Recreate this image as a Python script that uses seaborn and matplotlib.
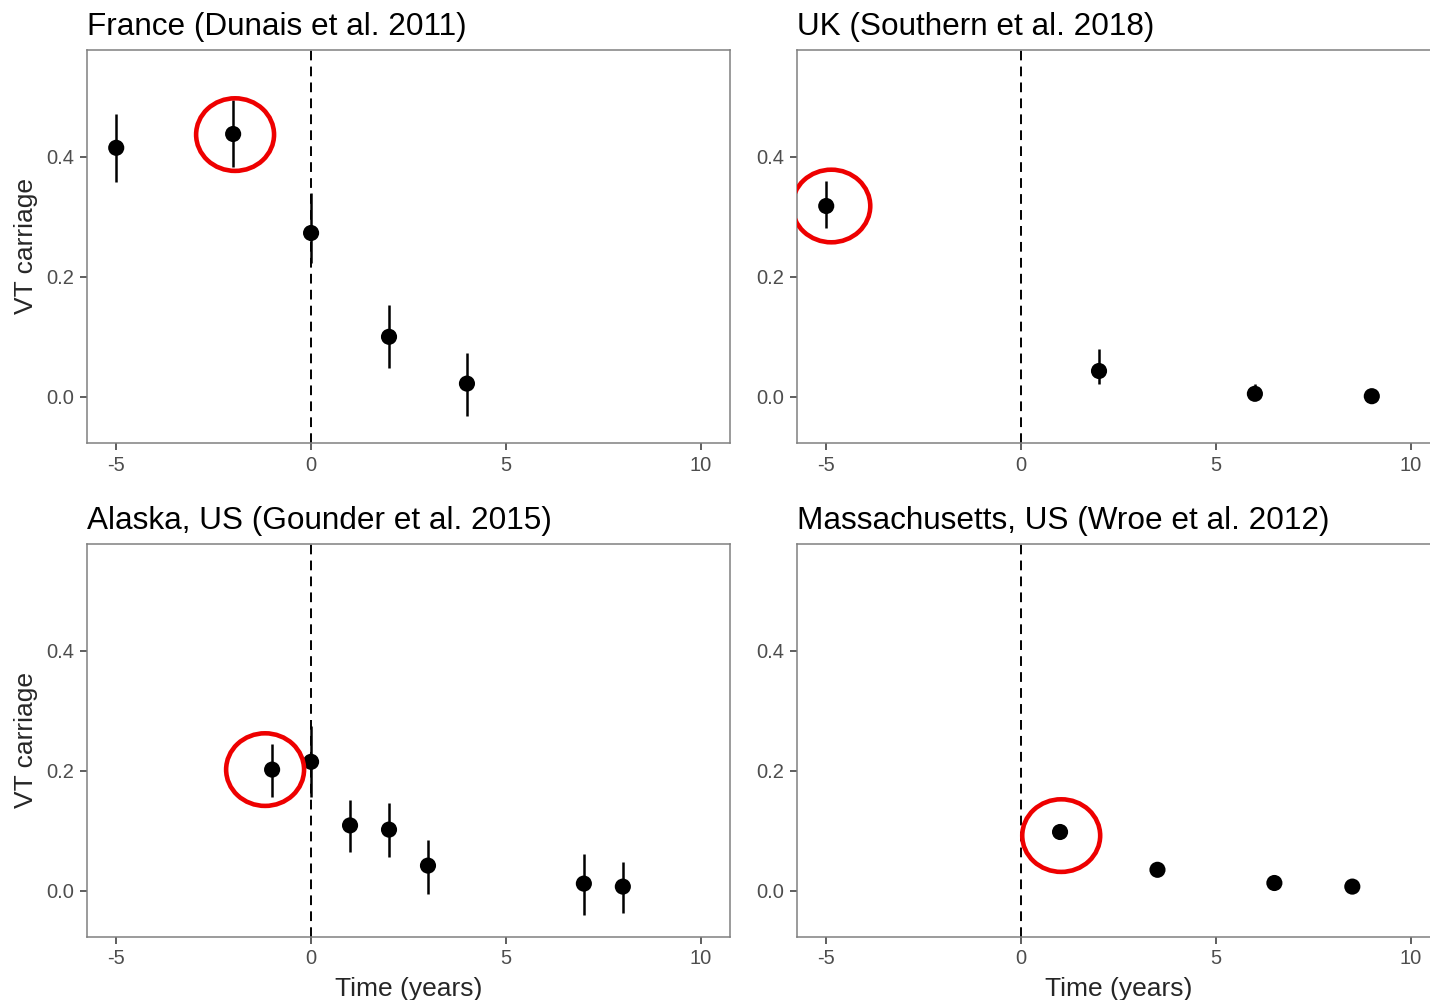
import matplotlib
matplotlib.use("Agg")
import matplotlib.pyplot as plt
from matplotlib.patches import Ellipse
import seaborn as sns
import pandas as pd

# ---- data ----
titles = ["France (Dunais et al. 2011)", "UK (Southern et al. 2018)",
          "Alaska, US (Gounder et al. 2015)", "Massachusetts, US (Wroe et al. 2012)"]

france_x = [-5, -2, 0, 2, 4]
france_y = [0.415, 0.438, 0.273, 0.100, 0.022]
france_lo = [0.358, 0.383, 0.223, 0.048, -0.032]
france_hi = [0.472, 0.495, 0.340, 0.153, 0.073]

uk_x = [-5, 2, 6, 9]
uk_y = [0.318, 0.043, 0.005, 0.001]
uk_lo = [0.282, 0.022, 0.000, 0.000]
uk_hi = [0.360, 0.080, 0.022, 0.004]

alaska_x = [-1, 0, 1, 2, 3, 7, 8]
alaska_y = [0.202, 0.215, 0.109, 0.102, 0.042, 0.012, 0.007]
alaska_lo = [0.157, 0.157, 0.065, 0.057, -0.005, -0.040, -0.037]
alaska_hi = [0.245, 0.274, 0.152, 0.147, 0.085, 0.062, 0.048]

mass_x = [1, 3.5, 6.5, 8.5]
mass_y = [0.098, 0.035, 0.013, 0.007]
mass_lo = [0.094, 0.032, 0.011, 0.005]
mass_hi = [0.102, 0.038, 0.015, 0.009]

# highlighted (circled) points: centre x, centre y
highlight_x = [-1.95, -4.87, -1.18, 1.03]
highlight_y = [0.437, 0.318, 0.202, 0.092]

x_ticks = [-5, 0, 5, 10]
y_ticks = [0.0, 0.2, 0.4]
y_labels = ["0.0", "0.2", "0.4"]

panels = [
    (france_x, france_y, france_lo, france_hi),
    (uk_x, uk_y, uk_lo, uk_hi),
    (alaska_x, alaska_y, alaska_lo, alaska_hi),
    (mass_x, mass_y, mass_lo, mass_hi),
]

# ---- style ----
sns.set_theme(style="white")
plt.rcParams['font.family'] = ['Liberation Sans', 'DejaVu Sans']

W, H = 1430, 1000
fig = plt.figure(figsize=(W / 100, H / 100), dpi=100)

# axes positions in pixels: left, top, right, bottom
boxes = [
    (87, 50, 730, 443),
    (797, 50, 1440, 443),
    (87, 544, 730, 937),
    (797, 544, 1440, 937),
]

for i, ((xs, ys, lo, hi), box) in enumerate(zip(panels, boxes)):
    l, t, r, b = box
    ax = fig.add_axes([l / W, 1 - b / H, (r - l) / W, (b - t) / H])
    df = pd.DataFrame({"x": xs, "y": ys, "lo": lo, "hi": hi})
    ax.axvline(0, color="black", lw=1.4, ls=(0, (5, 3.2)), zorder=1)
    ax.vlines(df["x"], df["lo"], df["hi"], color="black", lw=1.8, zorder=2)
    sns.scatterplot(data=df, x="x", y="y", ax=ax, color="black", s=135,
                    edgecolor="none", zorder=3, legend=False)
    ax.add_patch(Ellipse((highlight_x[i], highlight_y[i]), 2.0, 0.121,
                         fill=False, edgecolor="#EE0000", lw=3.3, zorder=4))
    ax.set_xlim(-5.75, 10.75)
    ax.set_ylim(-0.077, 0.578)
    ax.set_xticks(x_ticks)
    ax.set_xticklabels([str(v) for v in x_ticks])
    ax.set_yticks(y_ticks)
    ax.set_yticklabels(y_labels)
    ax.tick_params(axis="both", which="major", length=5, width=1.1,
                   color="#333333", labelcolor="#4D4D4D", labelsize=14.5,
                   bottom=True, left=True, pad=4)
    for sp in ax.spines.values():
        sp.set_color("#808080")
        sp.set_linewidth(1.1)
    ax.set_title(titles[i], loc="left", fontsize=22.7, pad=11, color="black")
    ax.set_xlabel("Time (years)" if i >= 2 else "", fontsize=19, labelpad=6)
    ax.set_ylabel("VT carriage" if i % 2 == 0 else "", fontsize=19, labelpad=6)

fig.savefig("out.png", dpi=100)
